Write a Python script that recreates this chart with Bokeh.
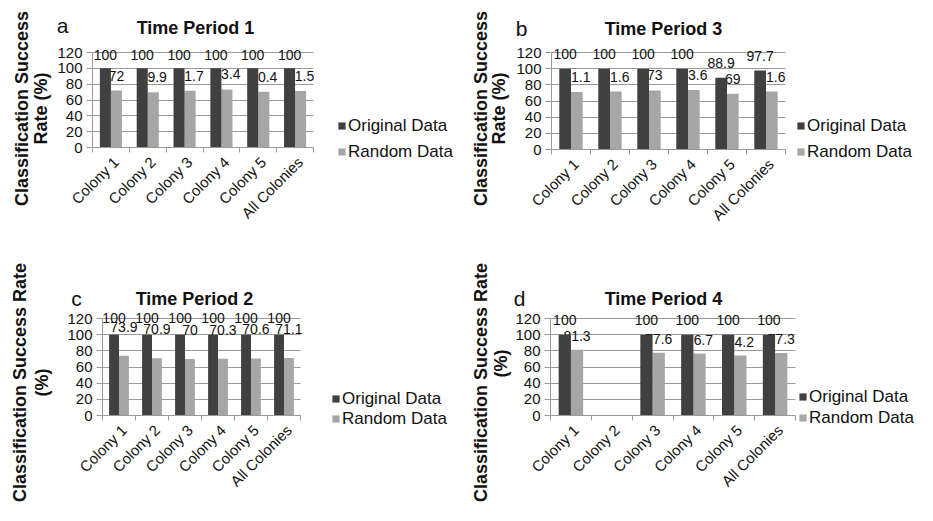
import math
from bokeh.plotting import figure
from bokeh.models import (Range1d, ColumnDataSource, LabelSet, Label,
                          Legend, LegendItem, FixedTicker)
from bokeh.transform import dodge
from bokeh.layouts import column, row
from bokeh.core.properties import value
from bokeh.embed import file_html
from bokeh.resources import INLINE

NAN = float("nan")

# ---------------- data ----------------
categories = ["Colony 1", "Colony 2", "Colony 3", "Colony 4", "Colony 5", "All Colonies"]
series_names = ["Original Data", "Random Data"]
y_ticks = [0, 20, 40, 60, 80, 100, 120]

tp1_original = [100, 100, 100, 100, 100, 100]
tp1_random = [72, 69.9, 71.7, 73.4, 70.4, 71.5]

tp3_original = [100, 100, 100, 100, 88.9, 97.7]
tp3_random = [71.1, 71.6, 73, 73.6, 69, 71.6]

tp2_original = [100, 100, 100, 100, 100, 100]
tp2_random = [73.9, 70.9, 70, 70.3, 70.6, 71.1]

tp4_original = [100, NAN, 100, 100, 100, 100]
tp4_random = [81.3, NAN, 77.6, 76.7, 74.2, 77.3]

# ---------------- style ----------------
FONT = "Liberation Sans"
DARK = "#404040"
LIGHT = "#a6a6a6"
GRID = "#9a9a9a"
TEXT = "#111111"
ITEM_H = 19


def fmt(v):
    if v != v:
        return ""
    return f"{v:g}"


def make_panel(letter, title, orig, rand, cfg):
    W, H = cfg["W"], cfg["H"]
    fl, ft, fw, fh = cfg["fl"], cfg["ft"], cfg["fw"], cfg["fh"]
    fb = ft + fh
    n = len(categories)
    pos = list(range(1, n + 1))                 # category slots on the x scale
    lo, hi = 0.5, n + 0.5                        # plot-area extent in slot units
    ux = (hi - lo) / fw                          # slot units per pixel
    uy = 120.0 / fh                              # value units per pixel

    # the frame spans the whole figure; the plot area is placed through the ranges
    p = figure(width=W, height=H,
               x_range=Range1d(lo - fl * ux, lo + (W - fl) * ux),
               y_range=Range1d(-(H - fb) * uy, 120 + ft * uy),
               toolbar_location=None, output_backend="svg", min_border=0)
    p.outline_line_color = None
    p.background_fill_color = "white"
    p.border_fill_color = "white"

    def dx(px):
        return lo + (px - fl) * ux

    def dy(py):
        return (fb - py) * uy

    src = ColumnDataSource(dict(
        x=pos, cat=categories, orig=orig, rand=rand,
        orig_txt=[fmt(v) for v in orig], rand_txt=[fmt(v) for v in rand]))

    # ---- axes ----
    yt = FixedTicker(ticks=y_ticks)
    p.yaxis.ticker = yt
    p.yaxis.fixed_location = lo
    p.yaxis.bounds = (0, 120)
    # category labels anchored a few pixels right of the slot centre, as Excel does
    shift = 5 * ux
    label_ticks = [q + shift for q in pos]
    p.xaxis.ticker = FixedTicker(ticks=label_ticks,
                                 minor_ticks=[q - 0.5 for q in pos] + [hi])
    p.xaxis.fixed_location = 0
    p.xaxis.bounds = (lo, hi)
    p.xaxis.major_label_overrides = {t: c for t, c in zip(label_ticks, categories)}
    for ax in (p.yaxis, p.xaxis):
        ax.axis_line_color = GRID
        ax.major_label_text_font = FONT
        ax.major_label_text_font_size = "15px"
        ax.major_label_text_color = TEXT
    p.yaxis.minor_tick_line_color = None
    p.yaxis.major_tick_line_color = GRID
    p.yaxis.major_tick_out = 6
    p.yaxis.major_tick_in = 0
    p.yaxis.major_label_standoff = 4
    p.xaxis.major_tick_line_color = None
    p.xaxis.minor_tick_line_color = GRID
    p.xaxis.minor_tick_out = 5
    p.xaxis.minor_tick_in = 0
    p.xaxis.major_label_orientation = math.pi / 4
    p.xaxis.major_label_standoff = 6

    # ---- grid ----
    p.xgrid.grid_line_color = None
    p.ygrid.ticker = yt
    p.ygrid.grid_line_color = GRID
    p.ygrid.bounds = (0, 120)
    if "cross_bounds" in p.ygrid[0].properties():
        p.ygrid.cross_bounds = (lo, hi)
    else:
        p.ygrid.grid_line_color = None
        p.segment(x0=lo, x1=hi, y0=y_ticks, y1=y_ticks, line_color=GRID, level="underlay")

    # random data labels sit under the dark bars (partly hidden, as in the original)
    p.add_layout(LabelSet(x=dodge("x", 0.15), y="rand", text="rand_txt",
                          source=src, level="underlay", y_offset=cfg["roff"],
                          text_align="center", text_baseline="alphabetic",
                          text_font=value(FONT), text_font_size="14px", text_color=TEXT))

    r_rand = p.vbar(x=dodge("x", 0.15), top="rand", width=0.3,
                    source=src, fill_color=LIGHT, line_color=None)
    r_orig = p.vbar(x=dodge("x", -0.15), top="orig", width=0.3,
                    source=src, fill_color=DARK, line_color=None)

    p.add_layout(LabelSet(x=dodge("x", -0.15), y="orig", text="orig_txt",
                          source=src, y_offset=cfg["ooff"],
                          text_align="center", text_baseline="alphabetic",
                          text_font=value(FONT), text_font_size="14px", text_color=TEXT))

    # ---- legend ----
    r1, r2 = cfg["leg_rows"]
    leg = Legend(items=[LegendItem(label=series_names[0], renderers=[r_orig]),
                        LegendItem(label=series_names[1], renderers=[r_rand])],
                 location=(cfg["leg_x"], (H - r2) - ITEM_H / 2),
                 border_line_color=None, background_fill_alpha=0,
                 padding=0, margin=0, spacing=int(round(r2 - r1 - ITEM_H)),
                 glyph_width=9, glyph_height=9, label_height=ITEM_H,
                 label_standoff=2, label_text_font=FONT,
                 label_text_font_size="17px", label_text_color=TEXT)
    p.add_layout(leg)

    # ---- panel letter, title, y-axis title ----
    p.add_layout(Label(x=dx(cfg["letter"][0]), y=dy(cfg["letter"][1]), text=letter,
                       text_align="center", text_baseline="alphabetic",
                       text_font=FONT, text_font_size="21px", text_color=TEXT))
    p.add_layout(Label(x=dx(cfg["title"][0]), y=dy(cfg["title"][1]), text=title,
                       text_align="center", text_baseline="alphabetic",
                       text_font=FONT, text_font_style="bold", text_font_size="18px",
                       text_color=TEXT))
    for (txt, (lx, ly)) in zip(cfg["ylab_text"], cfg["ylab"]):
        p.add_layout(Label(x=dx(lx), y=dy(ly), text=txt, angle=math.pi / 2,
                           text_align="center", text_baseline="middle",
                           text_font=FONT, text_font_style="bold", text_font_size="18px",
                           text_color=TEXT))
    return p


cfg_a = dict(W=460, H=258, fl=92, ft=52, fw=221, fh=95,
             ylab_text=["Classification Success", "Rate (%)"], ylab=[(21, 108), (40, 108)],
             letter=(62, 25), title=(195, 27), leg_x=337, leg_rows=[127, 152],
             ooff=8, roff=10)
cfg_b = dict(W=457, H=258, fl=91, ft=52, fw=234, fh=97,
             ylab_text=["Classification Success", "Rate (%)"], ylab=[(20, 108), (38, 108)],
             letter=(61, 28), title=(203, 28), leg_x=336, leg_rows=[127, 152],
             ooff=10, roff=10)
cfg_c = dict(W=460, H=247, fl=102, ft=60, fw=198, fh=97,
             ylab_text=["Classification Success Rate", "(%)"], ylab=[(19, 124), (41, 124)],
             letter=(76, 40), title=(194, 40), leg_x=331, leg_rows=[145, 161],
             ooff=12, roff=24)
cfg_d = dict(W=457, H=247, fl=90, ft=60, fw=245, fh=97,
             ylab_text=["Classification Success Rate", "(%)"], ylab=[(20, 124), (40, 105)],
             letter=(59, 40), title=(203, 40), leg_x=338, leg_rows=[140, 160],
             ooff=10, roff=9)

pa = make_panel("a", "Time Period 1", tp1_original, tp1_random, cfg_a)
pb = make_panel("b", "Time Period 3", tp3_original, tp3_random, cfg_b)
pc = make_panel("c", "Time Period 2", tp2_original, tp2_random, cfg_c)
pd = make_panel("d", "Time Period 4", tp4_original, tp4_random, cfg_d)

layout = column(row(pa, pb), row(pc, pd))
open("out.html", "w").write(file_html(layout, INLINE, title="Classification Success Rate"))
